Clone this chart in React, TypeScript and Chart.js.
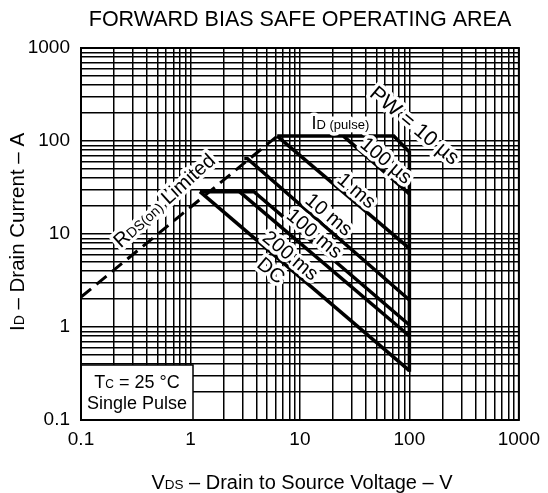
import React, { useEffect, useRef } from 'react';
import { Chart, registerables } from 'chart.js';

Chart.register(...registerables);

const FONT = '"Liberation Sans", Arial, Helvetica, sans-serif';

// Axis decades and grid multipliers (log grid 1..9 per decade)
const decades = [0.1, 1, 10, 100];
const multipliers = [1, 2, 3, 4, 5, 6, 7, 8, 9];
const axisMin = 0.1;
const axisMax = 1000;
const tickValues = [0.1, 1, 10, 100, 1000];
const tickLabels = ['0.1', '1', '10', '100', '1000'];

// R_DS(on) limited (dashed)
const rdsV = [0.1, 6.2];
const rdsI = [2.1, 113];
// I_D(pulse) limit + V_DSS limit
const pulseV = [6.2, 72, 100, 100];
const pulseI = [113, 113, 76, 0.33];
// Pulse width curves
const us100V = [25, 100];
const us100I = [113, 27];
const ms1V = [6.2, 100];
const ms1I = [113, 7];
const ms10V = [3.1, 3.3, 100];
const ms10I = [65, 65, 1.95];
const ms100V = [1.22, 3.8, 100];
const ms100I = [28.5, 28.5, 1.05];
const ms200V = [2.8, 100];
const ms200I = [28.5, 0.8];
const dcV = [1.22, 100];
const dcI = [28.5, 0.34];

const toPts = (xs: number[], ys: number[]) => xs.map((x, i) => ({ x, y: ys[i] }));

const gridValues = decades
  .flatMap((d) => multipliers.map((m) => +(d * m).toPrecision(6)))
  .concat([axisMax]);

type Part = [string, number];

function drawRich(
  ctx: CanvasRenderingContext2D,
  parts: Part[],
  cx: number,
  cy: number,
  angle: number,
  halo: boolean
) {
  ctx.save();
  ctx.translate(cx, cy);
  ctx.rotate((angle * Math.PI) / 180);
  const widths = parts.map(([t, s]) => {
    ctx.font = `${s}px ${FONT}`;
    return ctx.measureText(t).width;
  });
  const total = widths.reduce((a, b) => a + b, 0);
  const base = parts[0][1] * 0.358;
  ctx.textBaseline = 'alphabetic';
  ctx.textAlign = 'left';
  if (halo) {
    let x = -total / 2;
    parts.forEach(([t, s], k) => {
      ctx.font = `${s}px ${FONT}`;
      ctx.strokeStyle = '#fff';
      ctx.lineWidth = 7;
      ctx.lineJoin = 'round';
      ctx.strokeText(t, x, base);
      x += widths[k];
    });
  }
  let x = -total / 2;
  parts.forEach(([t, s], k) => {
    ctx.font = `${s}px ${FONT}`;
    ctx.fillStyle = '#000';
    ctx.fillText(t, x, base);
    x += widths[k];
  });
  ctx.restore();
}

const textPlugin = {
  id: 'soaTexts',
  afterDatasetsDraw(chart: any) {
    const { ctx, chartArea, scales } = chart;
    const xs = scales.x;
    const ys = scales.y;
    const P = (v: number, i: number) => [xs.getPixelForValue(v), ys.getPixelForValue(i)];

    const labels: { parts: Part[]; v: number; i: number; a: number }[] = [
      { parts: [['PW = 10 µs', 21]], v: 113, i: 149, a: 40 },
      { parts: [['100 µs', 20]], v: 62, i: 62.5, a: 40 },
      { parts: [['1 ms', 20]], v: 33.3, i: 29.7, a: 40 },
      { parts: [['10 ms', 20]], v: 18.6, i: 16.4, a: 40 },
      { parts: [['100 ms', 20]], v: 13.7, i: 10.3, a: 40 },
      { parts: [['200 ms', 20]], v: 8.3, i: 5.95, a: 40 },
      { parts: [['DC', 20]], v: 5.5, i: 4.1, a: 40 },
      { parts: [['R', 20], ['DS(on)', 14], [' Limited', 20]], v: 0.57, i: 23.2, a: -42 },
      { parts: [['I', 18], ['D (pulse)', 13]], v: 23.4, i: 156, a: 0 },
    ];
    labels.forEach((l) => {
      const [px, py] = P(l.v, l.i);
      drawRich(ctx, l.parts, px, py, l.a, true);
    });

    // Condition box
    ctx.save();
    const bx = chartArea.left;
    const by = 365;
    const bw = 112;
    const bh = chartArea.bottom - by;
    ctx.fillStyle = '#fff';
    ctx.fillRect(bx, by, bw, bh);
    ctx.strokeStyle = '#000';
    ctx.lineWidth = 1.5;
    ctx.strokeRect(bx, by, bw, bh);
    ctx.restore();
    drawRich(ctx, [['T', 18], ['C', 12], [' = 25 °C', 18]], bx + bw / 2, 382, 0, false);
    drawRich(ctx, [['Single Pulse', 18]], bx + bw / 2, 403, 0, false);

    // Plot border
    ctx.save();
    ctx.strokeStyle = '#000';
    ctx.lineWidth = 2;
    ctx.strokeRect(chartArea.left, chartArea.top, chartArea.right - chartArea.left, chartArea.bottom - chartArea.top);
    ctx.restore();

    // Title and axis titles
    drawRich(ctx, [['FORWARD BIAS SAFE OPERATING AREA', 21.5]], 300, 18, 0, false);
    drawRich(ctx, [['V', 20], ['DS', 13.5], [' – Drain to Source Voltage – V', 20]], 302, 482, 0, false);
    drawRich(ctx, [['I', 20.5], ['D', 14], [' – Drain Current – A', 20.5]], 17, 232, -90, false);
  },
};

export default function App() {
  const ref = useRef<HTMLCanvasElement | null>(null);
  useEffect(() => {
    if (!ref.current) return;
    const line = (xs: number[], ys: number[], extra: any = {}) => ({
      data: toPts(xs, ys),
      borderColor: '#000',
      borderWidth: 3.5,
      pointRadius: 0,
      tension: 0,
      fill: false,
      borderCapStyle: 'butt',
      borderJoinStyle: 'miter',
      ...extra,
    });
    const labelFor = (v: number) => {
      const k = tickValues.findIndex((t) => Math.abs(t - v) < 1e-9);
      return k >= 0 ? tickLabels[k] : '';
    };
    const setTicks = (scale: any) => {
      scale.ticks = gridValues.map((v) => ({ value: v }));
    };
    const chart = new Chart(ref.current, {
      type: 'line',
      data: {
        datasets: [
          line(rdsV, rdsI, { borderDash: [13, 7], borderWidth: 3 }),
          line(pulseV, pulseI),
          line(us100V, us100I),
          line(ms1V, ms1I),
          line(ms10V, ms10I),
          line(ms100V, ms100I),
          line(ms200V, ms200I),
          line(dcV, dcI),
        ] as any,
      },
      options: {
        animation: false,
        responsive: false,
        events: [],
        layout: { padding: { top: 48, right: 23, left: 0, bottom: 0 } },
        plugins: { legend: { display: false }, tooltip: { enabled: false }, title: { display: false } },
        scales: {
          x: {
            type: 'logarithmic',
            min: axisMin,
            max: axisMax,
            afterBuildTicks: setTicks,
            afterFit: (s: any) => {
              s.height = 73;
            },
            grid: { color: '#000', lineWidth: 1.5, drawTicks: false },
            border: { display: false },
            ticks: {
              autoSkip: false,
              maxRotation: 0,
              padding: 8,
              color: '#000',
              font: { family: FONT, size: 19 },
              callback: (v: any) => labelFor(Number(v)),
            },
          },
          y: {
            type: 'logarithmic',
            min: axisMin,
            max: axisMax,
            afterBuildTicks: setTicks,
            afterFit: (s: any) => {
              s.width = 81;
            },
            grid: { color: '#000', lineWidth: 1.5, drawTicks: false },
            border: { display: false },
            ticks: {
              autoSkip: false,
              padding: 11,
              color: '#000',
              font: { family: FONT, size: 19 },
              callback: (v: any) => labelFor(Number(v)),
            },
          },
        },
      } as any,
      plugins: [textPlugin],
    });
    return () => chart.destroy();
  }, []);
  return (
    <div style={{ position: 'absolute', left: 0, top: 0, width: 548, height: 493, background: '#fff' }}>
      <canvas ref={ref} width={548} height={493} style={{ display: 'block', width: 548, height: 493 }} />
    </div>
  );
}
